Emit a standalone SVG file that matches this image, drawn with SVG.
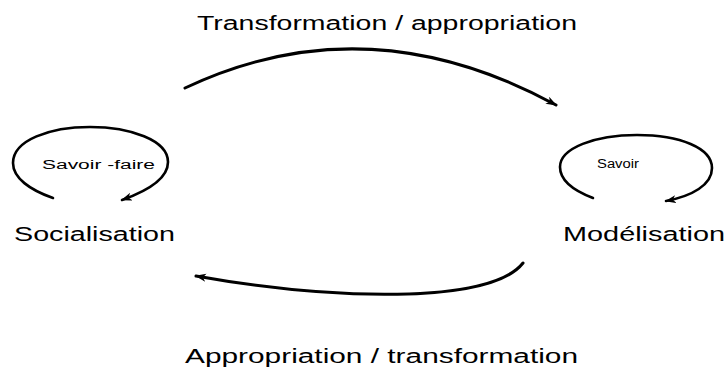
<svg xmlns="http://www.w3.org/2000/svg" width="728" height="367" viewBox="0 0 728 367">
  <style>
    text { font-family: "Liberation Sans", Arial, sans-serif; fill: #000; }
    .big { font-size: 20px; }
    .small { font-size: 12.5px; }
    .arc { fill: none; stroke: #000; stroke-width: 3; stroke-linecap: round; }
    .loop { fill: none; stroke: #000; stroke-width: 2.6; stroke-linecap: round; }
  </style>
  <defs>
    <marker id="arrow" markerUnits="userSpaceOnUse" markerWidth="14" markerHeight="10" refX="10" refY="4" orient="auto">
      <path d="M0,0 L11,4 L0,8 L3,4 Z" fill="#000"/>
    </marker>
  </defs>
  <rect width="728" height="367" fill="#fff"/>

  <g id="socialisation">
    <path class="loop" d="M53,198 C30,190 13,178 13,163 C13,140 50,127 90,127 C130,127 168,140 168,162 C168,178 150,190 122,200" marker-end="url(#arrow)"/>
    <text class="small" x="42" y="169" textLength="113" lengthAdjust="spacingAndGlyphs">Savoir -faire</text>
    <text class="big" x="14" y="241" textLength="161" lengthAdjust="spacingAndGlyphs">Socialisation</text>
  </g>

  <g id="modelisation">
    <path class="loop" d="M593,198 C572,190 560,180 560,167 C560,148 595,135 637,135 C680,135 712,148 712,168 C712,185 692,196 666,201" marker-end="url(#arrow)"/>
    <text class="small" x="597" y="168" textLength="42" lengthAdjust="spacingAndGlyphs">Savoir</text>
    <text class="big" x="563" y="241" textLength="162" lengthAdjust="spacingAndGlyphs">Modélisation</text>
  </g>

  <g id="connectors">
    <path class="arc" d="M185,88 Q367,2 556,105" marker-end="url(#arrow)"/>
    <text class="big" x="197" y="30" textLength="380" lengthAdjust="spacingAndGlyphs">Transformation / appropriation</text>
    <path class="arc" d="M523,263 C490,305 330,300 196,276" marker-end="url(#arrow)"/>
    <text class="big" x="185" y="363" textLength="393" lengthAdjust="spacingAndGlyphs">Appropriation / transformation</text>
  </g>
</svg>
